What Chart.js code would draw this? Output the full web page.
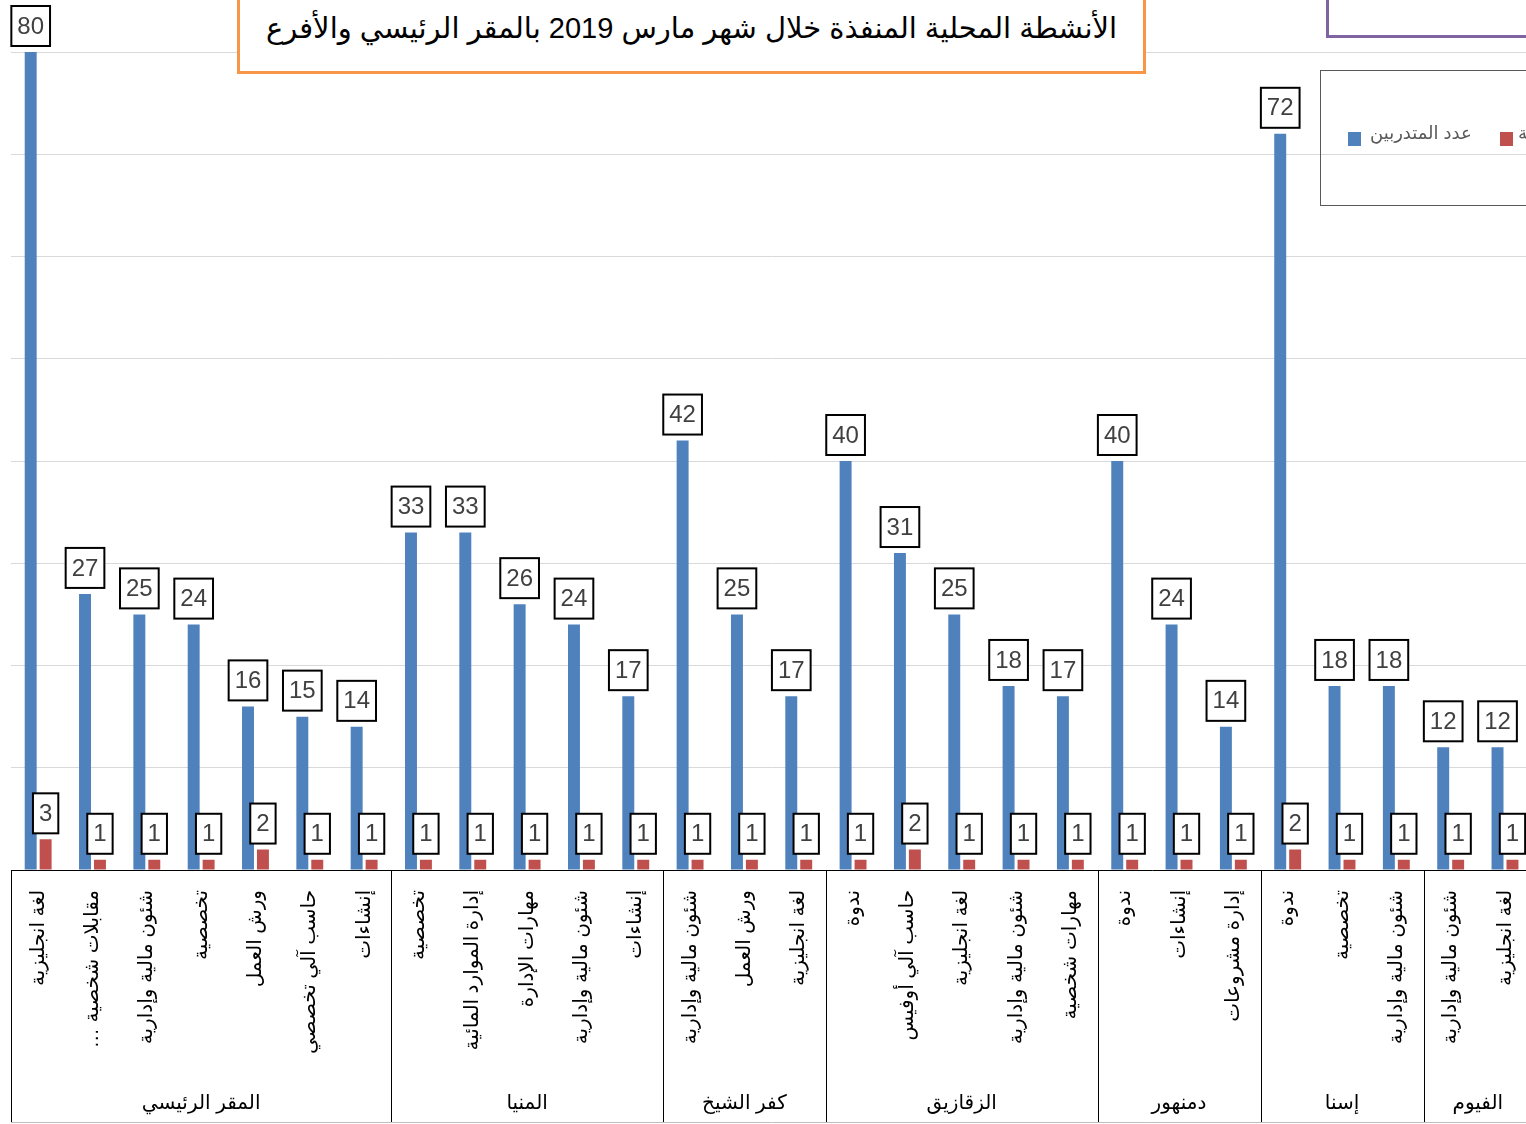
<!DOCTYPE html>
<html lang="ar">
<head>
<meta charset="utf-8">
<title>الأنشطة المحلية</title>
<script src="https://cdn.jsdelivr.net/npm/chart.js@4.4.1/dist/chart.umd.min.js"></script>
<style>
    body { margin: 0; background: #fff; overflow: hidden; width: 1526px; height: 1124px; position: relative; font-family: "Liberation Sans", "DejaVu Sans", sans-serif; }
    #wrap { position: absolute; left: 0; top: 0; width: 1549px; height: 1124px; }
    #title {
        position: absolute; left: 237px; top: -3px; width: 903px; height: 71px;
        border: 3px solid #F79646; background: #fff; text-align: center;
        font-size: 29px; line-height: 56px; color: #000; direction: rtl;
    }
    #note { position: absolute; left: 1326px; top: -12px; width: 230px; height: 44px; border: 3px solid #8064A2; background: #fff; }
    #legend { position: absolute; left: 1320px; top: 70px; width: 240px; height: 134px; border: 1.5px solid #595959; }
    .item { position: absolute; top: 51px; font-size: 18px; color: #595959; white-space: nowrap; direction: rtl; }
    .swatch { position: absolute; top: 61px; width: 13px; height: 14px; }
</style>
</head>
<body>
<div id="wrap"><canvas id="activitiesChart" width="1549" height="1124"></canvas></div>
<div id="title">الأنشطة المحلية المنفذة خلال شهر مارس 2019 بالمقر الرئيسي والأفرع</div>
<div id="note"></div>
<div id="legend"></div>

<script>
// Data
const branches = ['المقر الرئيسي', 'المنيا', 'كفر الشيخ', 'الزقازيق', 'دمنهور', 'إسنا', 'الفيوم'];
const branchSizes = [7, 5, 3, 5, 3, 3, 2];

const activities = [
    'لغة انجليزية', 'مقابلات شخصية …\u200F', 'شئون مالية وإدارية', 'تخصصية', 'ورش العمل', 'حاسب آلي تخصصي', 'إنشاءات',
    'تخصصية', 'إدارة الموارد المائية', 'مهارات الإدارة', 'شئون مالية وإدارية', 'إنشاءات',
    'شئون مالية وإدارية', 'ورش العمل', 'لغة انجليزية',
    'ندوة', 'حاسب آلي أوفيس', 'لغة انجليزية', 'شئون مالية وإدارية', 'مهارات شخصية',
    'ندوة', 'إنشاءات', 'إدارة مشروعات',
    'ندوة', 'تخصصية', 'شئون مالية وإدارية',
    'شئون مالية وإدارية', 'لغة انجليزية'
];

const trainees = [80, 27, 25, 24, 16, 15, 14, 33, 33, 26, 24, 17, 42, 25, 17, 40, 31, 25, 18, 17, 40, 24, 14, 72, 18, 18, 12, 12];
const activityCounts = [3, 1, 1, 1, 2, 1, 1, 1, 1, 1, 1, 1, 1, 1, 1, 1, 2, 1, 1, 1, 1, 1, 1, 2, 1, 1, 1, 1];

const seriesNames = ['عدد المتدربين', 'عدد الأنشطة'];
const seriesColors = ['#4F81BD', '#C0504D'];

const FONT = '"Liberation Sans", "DejaVu Sans", sans-serif';

// Boxed value labels above each bar
const valueBoxes = {
    id: 'valueBoxes',
    afterDatasetsDraw(chart) {
        const ctx = chart.ctx;
        ctx.save();
        ctx.font = '24px ' + FONT;
        ctx.textAlign = 'center';
        ctx.textBaseline = 'middle';
        chart.data.datasets.forEach((ds, di) => {
            chart.getDatasetMeta(di).data.forEach((bar, i) => {
                const txt = String(ds.data[i]);
                const w = ctx.measureText(txt).width + 12;
                const h = 40;
                const x = bar.x - w / 2;
                const y = bar.y - 6 - h;
                ctx.fillStyle = '#fff';
                ctx.fillRect(x, y, w, h);
                ctx.lineWidth = 2;
                ctx.strokeStyle = '#000';
                ctx.strokeRect(x, y, w, h);
                ctx.fillStyle = '#404040';
                ctx.fillText(txt, bar.x, y + h / 2 + 1);
            });
        });
        ctx.restore();
    }
};

// Second level of the category axis: branch names and separators
const branchAxis = {
    id: 'branchAxis',
    afterDraw(chart) {
        const ctx = chart.ctx;
        const x = chart.scales.x;
        const step = x.getPixelForValue(1) - x.getPixelForValue(0);
        const top = chart.chartArea.bottom;
        const bottom = 1122;
        ctx.save();
        ctx.strokeStyle = '#000';
        ctx.lineWidth = 1;
        let start = 0;
        branches.forEach((name, b) => {
            const left = x.getPixelForValue(start) - step / 2;
            const right = x.getPixelForValue(start + branchSizes[b] - 1) + step / 2;
            ctx.beginPath();
            ctx.moveTo(Math.round(left) + 0.5, top);
            ctx.lineTo(Math.round(left) + 0.5, bottom);
            ctx.stroke();
            ctx.font = '20px ' + FONT;
            ctx.fillStyle = '#000';
            ctx.textAlign = 'center';
            ctx.textBaseline = 'middle';
            ctx.fillText(name, (left + right) / 2, 1103);
            start += branchSizes[b];
        });
        ctx.strokeStyle = '#BFBFBF';
        ctx.beginPath();
        ctx.moveTo(x.left, bottom + 0.5);
        ctx.lineTo(x.right, bottom + 0.5);
        ctx.stroke();
        ctx.restore();
    }
};

function buildLegend() {
    const legend = document.getElementById('legend');
    const positions = [[27, 49], [179, 197]];
    seriesNames.forEach((name, i) => {
        const sw = document.createElement('div');
        sw.className = 'swatch';
        sw.style.left = positions[i][0] + 'px';
        sw.style.background = seriesColors[i];
        legend.appendChild(sw);
        const label = document.createElement('div');
        label.className = 'item';
        label.style.left = positions[i][1] + 'px';
        label.textContent = name;
        legend.appendChild(label);
    });
}

document.addEventListener('DOMContentLoaded', () => {
    buildLegend();

    const ctx = document.getElementById('activitiesChart').getContext('2d');
    new Chart(ctx, {
        type: 'bar',
        data: {
            labels: activities,
            datasets: [
                {
                    label: seriesNames[0],
                    data: trainees,
                    backgroundColor: seriesColors[0],
                    categoryPercentage: 0.55,
                    barPercentage: 0.8
                },
                {
                    label: seriesNames[1],
                    data: activityCounts,
                    backgroundColor: seriesColors[1],
                    categoryPercentage: 0.55,
                    barPercentage: 0.8
                }
            ]
        },
        options: {
            responsive: false,
            animation: false,
            layout: { padding: { left: 11, top: 52, right: 0, bottom: 0 } },
            plugins: {
                legend: { display: false },
                tooltip: { enabled: false }
            },
            scales: {
                x: {
                    grid: { display: false, drawTicks: false },
                    border: { display: true, color: '#000', width: 1 },
                    ticks: {
                        autoSkip: false,
                        minRotation: 90,
                        maxRotation: 90,
                        padding: 20,
                        color: '#000',
                        font: { family: FONT, size: 20 }
                    },
                    afterFit: scale => { scale.height = 254; }
                },
                y: {
                    min: 0,
                    max: 80,
                    ticks: { display: false, stepSize: 10 },
                    grid: { color: '#D9D9D9', drawTicks: false },
                    border: { display: false },
                    afterFit: scale => { scale.width = 0; }
                }
            }
        },
        plugins: [valueBoxes, branchAxis]
    });
});
</script>
</body>
</html>
